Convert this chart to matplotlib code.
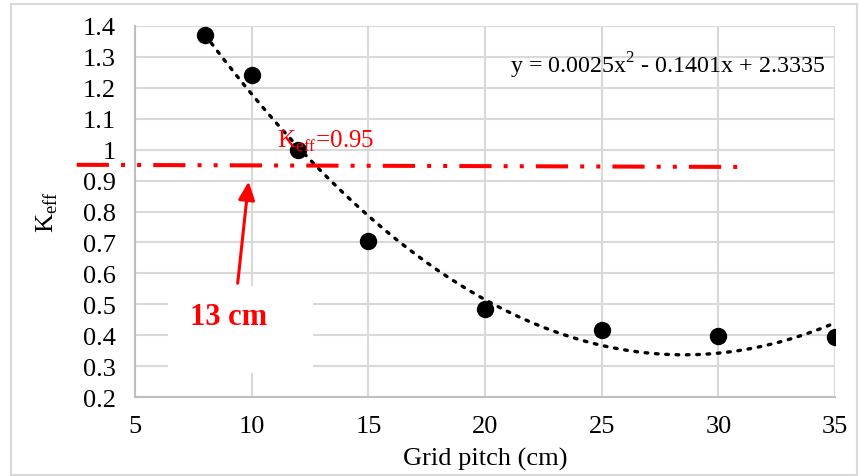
import numpy as np
import matplotlib
matplotlib.use("Agg")
import matplotlib.pyplot as plt
from matplotlib.patches import Rectangle

plt.rcParams['font.family'] = ['Liberation Serif', 'DejaVu Serif']

# data
pitch = [8, 10, 12, 15, 20, 25, 30, 35]
keff = [1.37, 1.24, 1.0, 0.706, 0.484, 0.416, 0.397, 0.395]
x_ticks = [5, 10, 15, 20, 25, 30, 35]
y_ticks = [0.2, 0.3, 0.4, 0.5, 0.6, 0.7, 0.8, 0.9, 1.0, 1.1, 1.2, 1.3, 1.4]
y_tick_labels = ['0.2', '0.3', '0.4', '0.5', '0.6', '0.7', '0.8', '0.9', '1',
                 '1.1', '1.2', '1.3', '1.4']
limit_x = [2.5, 31.3]
limit_y = [0.951, 0.944]

fig = plt.figure(figsize=(8.59, 4.77), dpi=100)
ax = fig.add_axes([0.1572, 0.1656, 0.8149, 0.7778])

# outer border of the chart
fig.patches.append(Rectangle((11 / 859, 1 / 477), 846 / 859, 471 / 477,
                             transform=fig.transFigure, fill=False,
                             edgecolor='#d9d9d9', lw=1.5))

# quadratic trendline fitted to the points
coef = np.polyfit(pitch, keff, 2)
xt = np.linspace(min(pitch), max(pitch), 300)
ax.plot(xt, np.polyval(coef, xt), color='black', lw=2.4,
        linestyle=(0, (0.8, 2.3)), dash_capstyle='round', zorder=3)

ax.plot(pitch, keff, 'o', color='black', markersize=11.5, zorder=4)

ax.plot(limit_x, limit_y, color='red', lw=2.9,
        dashes=(8, 3, 1, 3, 1, 3), clip_on=False, zorder=3)

# white label box and arrow
ax.add_patch(Rectangle((6.41, 0.277), 6.2, 0.281, facecolor='white',
                       edgecolor='none', zorder=2))
ax.text(9.02, 0.461, '13 cm', color='red', fontsize=22, fontweight='bold',
        ha='center', va='center', zorder=5)
ax.annotate('', xy=(9.87, 0.897), xytext=(9.40, 0.568),
            arrowprops=dict(arrowstyle='-|>,head_length=1.1,head_width=0.5',
                            color='red', lw=2.2, shrinkA=0, shrinkB=0),
            zorder=5)

ax.text(11.1, 1.03, r'K$_{\mathregular{eff}}$=0.95', color='red',
        fontsize=18, ha='left', va='center', zorder=5)
ax.text(34.6, 1.275, r'y = 0.0025x$^{\mathregular{2}}$ - 0.1401x + 2.3335',
        fontsize=17.3, ha='right', va='center', zorder=5)

ax.set_xlim(5, 35)
ax.set_ylim(0.2, 1.4)
ax.set_xticks(x_ticks)
ax.set_yticks(y_ticks)
ax.set_yticklabels(y_tick_labels)
ax.tick_params(length=0, labelsize=19)
ax.tick_params(axis='x', pad=13)
ax.tick_params(axis='y', pad=14)
ax.grid(True, color='#d9d9d9', lw=1.5, zorder=0)
ax.set_axisbelow(True)
for s in ['top', 'right']:
    ax.spines[s].set_visible(False)
for s in ['left', 'bottom']:
    ax.spines[s].set_color('#bfbfbf')
    ax.spines[s].set_linewidth(1.5)

ax.set_xlabel('Grid pitch (cm)', fontsize=19, labelpad=7)
ax.set_ylabel(r'K$_{\mathregular{eff}}$', fontsize=19, labelpad=16)

fig.savefig('out.png', dpi=100)
